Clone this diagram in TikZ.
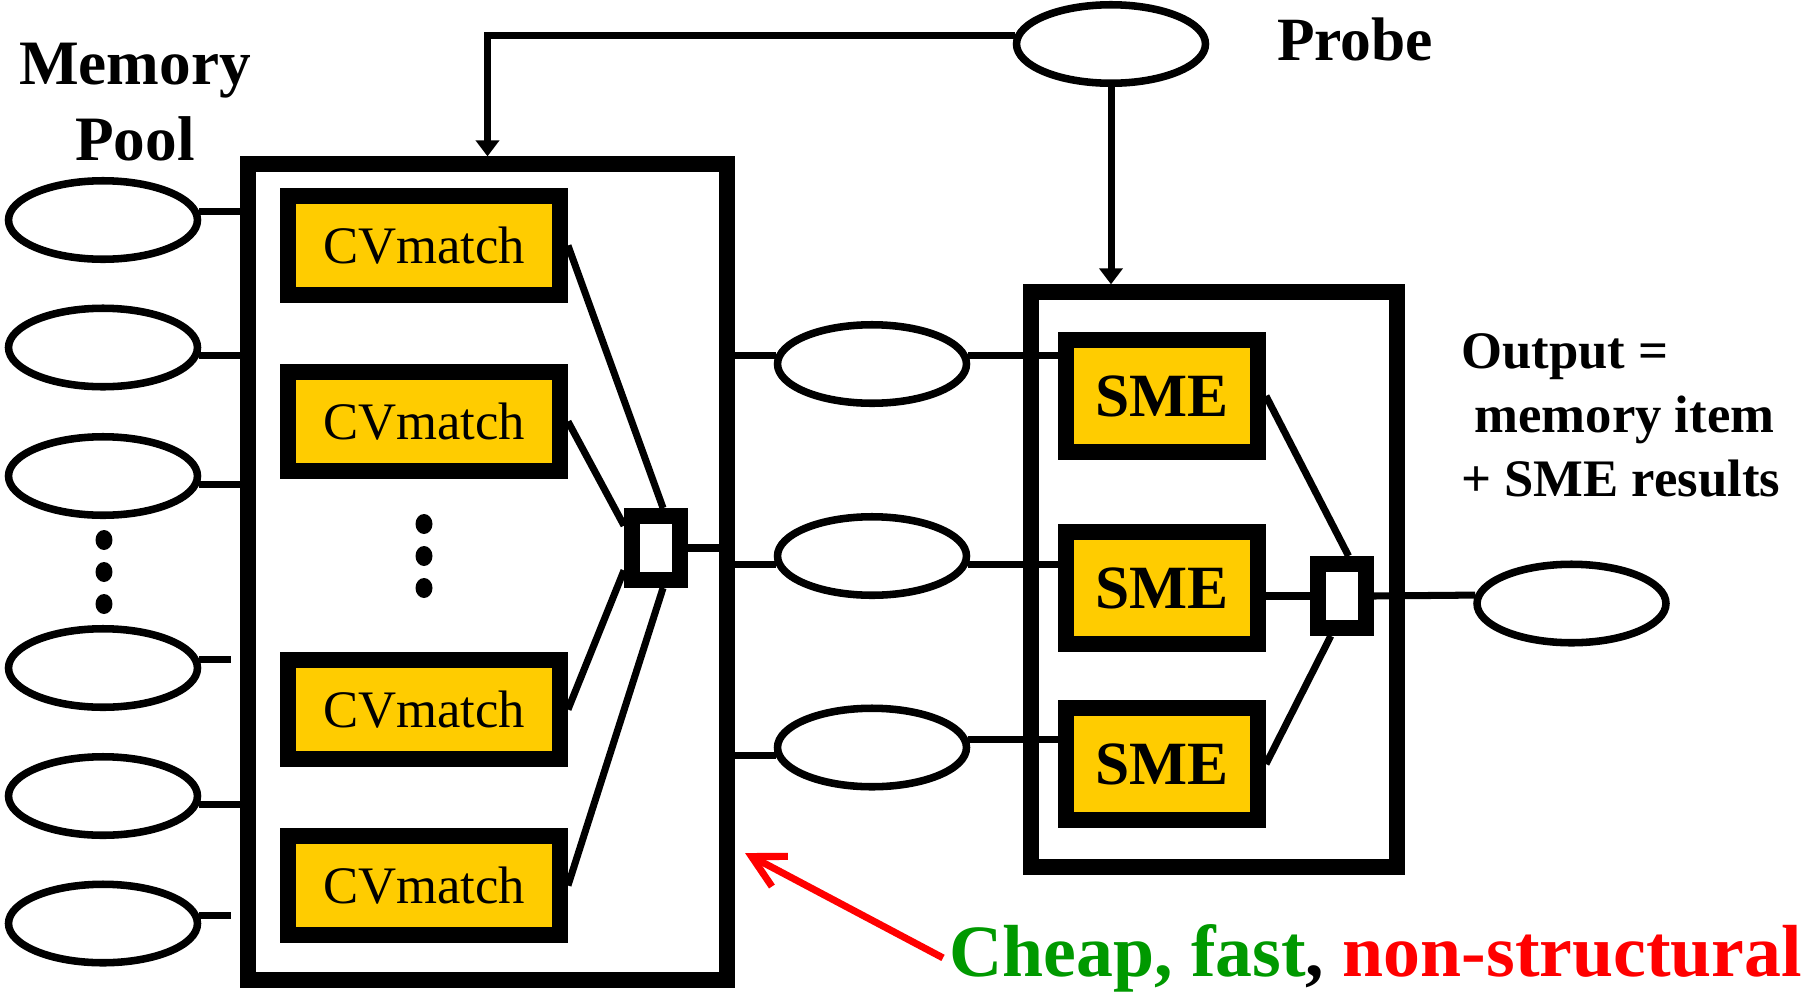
\documentclass[tikz,border=0pt]{standalone}
\usepackage{fontspec}
\setmainfont{Liberation Serif}
\usepackage{tikz}
\usetikzlibrary{shapes.geometric,arrows.meta}
\definecolor{cvyellow}{HTML}{FFCC00}
\definecolor{okgreen}{HTML}{009900}
\definecolor{badred}{HTML}{FF0000}

\begin{document}
\begin{tikzpicture}[x=0.02cm, y=-0.02cm,
    item/.style={draw, ellipse, line width=4.3pt, minimum width=3.78cm, minimum height=1.57cm, inner sep=0pt},
    stage/.style={draw, line width=8.8pt, inner sep=0pt},
    unit/.style={draw, fill=cvyellow, line width=9.1pt, inner sep=0pt},
    cvunit/.style={unit, minimum width=5.44cm, minimum height=1.98cm, font=\fontsize{30}{36}\selectfont},
    smeunit/.style={unit, minimum width=3.84cm, minimum height=2.24cm, font=\fontsize{35}{42}\selectfont\bfseries},
    merge/.style={draw, fill=white, line width=9.1pt, minimum width=0.96cm, minimum height=1.28cm, inner sep=0pt},
    wire/.style={line width=4pt}]

        \useasboundingbox (0,0) rectangle (1805,991);

        %Memory pool
        \node [align=center, font=\fontsize{36}{43}\selectfont\bfseries] (pool) at (135,102) {Memory\\Pool};
        \node [item] (m1) at (103,220)   {};
        \node [item] (m2) at (103,347.5) {};
        \node [item] (m3) at (103,476)   {};
        \node [item] (m4) at (103,668)   {};
        \node [item] (m5) at (103,796)   {};
        \node [item] (m6) at (103,923.5) {};
        \fill (104,540) ellipse [x radius=0.17cm, y radius=0.2cm];
        \fill (104,572) ellipse [x radius=0.17cm, y radius=0.2cm];
        \fill (104,604) ellipse [x radius=0.17cm, y radius=0.2cm];

        %CVmatch stage
        \node [stage, minimum width=9.58cm, minimum height=16.32cm] (cvbox) at (487.5,572) {};
        \node [cvunit] (cv1) at (424,245.5) {CVmatch};
        \node [cvunit] (cv2) at (424,421.5) {CVmatch};
        \node [cvunit] (cv3) at (424,709.5) {CVmatch};
        \node [cvunit] (cv4) at (424,885.5) {CVmatch};
        \fill (424,524) ellipse [x radius=0.17cm, y radius=0.2cm];
        \fill (424,556) ellipse [x radius=0.17cm, y radius=0.2cm];
        \fill (424,588) ellipse [x radius=0.17cm, y radius=0.2cm];
        \node [merge] (mg1) at (656,548) {};

        %Candidates
        \node [item] (e1) at (872,364)   {};
        \node [item] (e2) at (872,556)   {};
        \node [item] (e3) at (872,747.5) {};

        %Probe
        \node [item] (probe) at (1111,44) {};
        \node [anchor=base, font=\fontsize{35}{42}\selectfont\bfseries] (probetext) at (1355,60) {Probe};

        %SME stage
        \node [stage, minimum width=7.32cm, minimum height=11.5cm] (sbox) at (1214,579.5) {};
        \node [smeunit] (s1) at (1162,396) {SME};
        \node [smeunit] (s2) at (1162,588) {SME};
        \node [smeunit] (s3) at (1162,764) {SME};
        \node [merge] (mg2) at (1341.5,596) {};

        %Output
        \node [item] (out) at (1571.5,603.5) {};
        \node [align=left, anchor=north west, inner sep=0pt, font=\fontsize{30}{36.4}\selectfont\bfseries] (outtext) at (1461,333)
          {Output =\\\hspace*{0.25em}memory item\\+ SME results};

        %Wires
        \draw [wire] (m1.5)   -- (m1.5 -| cvbox.west);
        \draw [wire] (m2.355) -- (m2.355 -| cvbox.west);
        \draw [wire] (m3.355) -- (m3.355 -| cvbox.west);
        \draw [wire, shorten >=0.18cm] (m4.5) -- (m4.5 -| cvbox.west);
        \draw [wire] (m5.355) -- (m5.355 -| cvbox.west);
        \draw [wire, shorten >=0.18cm] (m6.5) -- (m6.5 -| cvbox.west);
        \draw [wire] (cv1.east) -- (mg1.80);
        \draw [wire] (cv2.east) -- (mg1.145);
        \draw [wire] (cv3.east) -- (mg1.215);
        \draw [wire] (cv4.east) -- (mg1.280);
        \draw [wire] (mg1.east) -- (mg1.east -| cvbox.east);
        \draw [wire] (e1.175 -| cvbox.east) -- (e1.175);
        \draw [wire] (e2.185 -| cvbox.east) -- (e2.185);
        \draw [wire] (e3.185 -| cvbox.east) -- (e3.185);
        \draw [wire] (e1.5)   -- (e1.5 -| s1.west);
        \draw [wire] (e2.355) -- (e2.355 -| s2.west);
        \draw [wire] (e3.5)   -- (e3.5 -| s3.west);
        \draw [wire] (s1.east) -- (mg2.80);
        \draw [wire] (s2.east |- mg2.west) -- (mg2.west);
        \draw [wire] (s3.east) -- (mg2.255);
        \draw [wire] (mg2.east) -- (out.175);
        \draw [wire, -{Triangle[length=0.32cm, width=0.46cm]}] (probe.175) -| (cvbox.north);
        \draw [wire, -{Triangle[length=0.32cm, width=0.46cm]}] (probe.south) -- (probe.south |- sbox.north);

        %Note
        \node [anchor=base west, font=\fontsize{42}{50}\selectfont\bfseries] (note) at (943,976)
          {\textcolor{okgreen}{Cheap, fast}, \textcolor{badred}{non-structural}};
        \coordinate (tip) at (745,853);
        \draw [line width=4pt, badred, -{Straight Barb[length=0.64cm, width=0.68cm]}] (note.west) -- (tip);
\end{tikzpicture}
\end{document}
